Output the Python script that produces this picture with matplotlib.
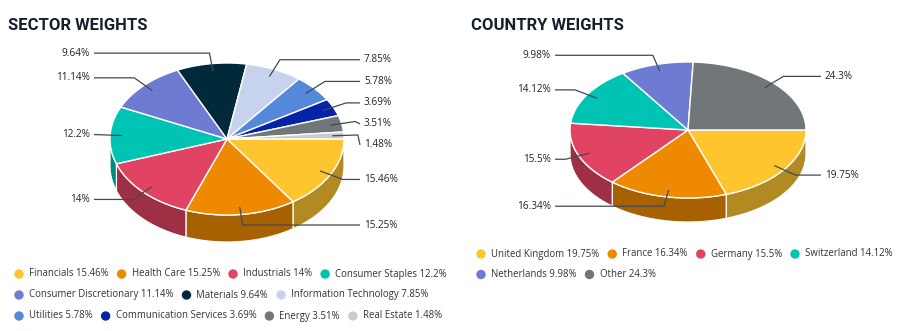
import numpy as np
import matplotlib.pyplot as plt
from matplotlib.patches import Polygon, Circle
from matplotlib.colors import to_rgb

W, H = 901, 331

sector_names = ['Financials', 'Health Care', 'Industrials', 'Consumer Staples',
                'Consumer Discretionary', 'Materials', 'Information Technology',
                'Utilities', 'Communication Services', 'Energy', 'Real Estate']
sector_values = [15.46, 15.25, 14, 12.2, 11.14, 9.64, 7.85, 5.78, 3.69, 3.51, 1.48]
sector_colors = ['#ffc52f', '#ef8a00', '#e14463', '#00c4b3', '#6d7bd3', '#00293a',
                 '#c7d3ec', '#5588db', '#0523a8', '#717679', '#cbcbcb']

country_names = ['United Kingdom', 'France', 'Germany', 'Switzerland', 'Netherlands', 'Other']
country_values = [19.75, 16.34, 15.5, 14.12, 9.98, 24.3]
country_colors = ['#ffc52f', '#ef8a00', '#e14463', '#00c4b3', '#6d7bd3', '#717679']

LABEL_FONT = ['Open Sans', 'DejaVu Sans']
TEXT_C = '#333333'
LINE_C = '#3f4a54'


def shade(c, k=0.7):
    return tuple(v * k for v in to_rgb(c))


def pie3d(ax, values, colors, cx, cy, rx, ry, depth):
    vals = np.asarray(values, float)
    edges = np.r_[0, np.cumsum(vals)] / vals.sum() * 2 * np.pi

    # outer wall, only the front half (screen y grows downward)
    for a0, a1, c in zip(edges[:-1], edges[1:], colors):
        lo, hi = max(a0, 0), min(a1, np.pi)
        if hi <= lo:
            continue
        t = np.linspace(lo, hi, 80)
        xs, ys = cx + rx * np.cos(t), cy + ry * np.sin(t)
        pts = np.r_[np.c_[xs, ys], np.c_[xs[::-1], ys[::-1] + depth]]
        ax.add_patch(Polygon(pts, closed=True, fc=shade(c), ec='white', lw=0.9, zorder=2))

    # top face
    for a0, a1, c in zip(edges[:-1], edges[1:], colors):
        t = np.linspace(a0, a1, 100)
        pts = np.r_[[[cx, cy]], np.c_[cx + rx * np.cos(t), cy + ry * np.sin(t)]]
        ax.add_patch(Polygon(pts, closed=True, fc=c, ec='white', lw=1.0, zorder=3))

    # data labels with connectors
    mids = (edges[:-1] + edges[1:]) / 2
    for side in (1, -1):
        idx = [i for i in range(len(vals)) if np.sign(np.cos(mids[i]) + 1e-9) == side]
        idx.sort(key=lambda i: np.sin(mids[i]))
        prev = -1e9
        for i in idx:
            a = mids[i]
            y0 = cy + np.sin(a) * ry * 1.14
            y = max(y0, prev + 21)
            prev = y
            ax_x, ax_y = cx + 0.9 * rx * np.cos(a), cy + 0.9 * ry * np.sin(a)
            bx = cx + np.cos(a) * (rx + 14)
            tx = cx + side * 137
            ax.plot([ax_x, bx, tx - side * 4], [ax_y, y0, y], color=LINE_C, lw=0.9,
                    zorder=4, solid_capstyle='butt')
            ax.text(tx, y, f'{values[i]:g}%', ha='left' if side > 0 else 'right',
                    va='center', fontsize=7.2, color='#222222', family=LABEL_FONT, zorder=5)


def legend(ax, names, values, colors, x0, y0, xmax, row_h):
    r = ax.figure.canvas.get_renderer()
    x, y = x0, y0
    for n, v, c in zip(names, values, colors):
        t = ax.text(x + 10, y, f'{n} {v:g}%', ha='left', va='center', fontsize=6.9,
                    color=TEXT_C, family=LABEL_FONT)
        w = t.get_window_extent(r).width
        if x + 10 + w > xmax and x > x0:
            x, y = x0, y + row_h
            t.set_position((x + 10, y))
        ax.add_patch(Circle((x, y), 4.7, color=c, lw=0))
        x += 10 + w + 13


fig = plt.figure(figsize=(W / 100, H / 100), dpi=100)
ax = fig.add_axes([0, 0, 1, 1])
ax.set_xlim(0, W)
ax.set_ylim(H, 0)
ax.axis('off')

ax.text(8, 25, 'SECTOR WEIGHTS', fontsize=12, fontweight='bold', color='#14202e',
        family=['Roboto', 'DejaVu Sans'], va='center', ha='left')
ax.text(471, 25, 'COUNTRY WEIGHTS', fontsize=12, fontweight='bold', color='#14202e',
        family=['Roboto', 'DejaVu Sans'], va='center', ha='left')

pie3d(ax, sector_values, sector_colors, 227, 139, 117, 76, 27)
pie3d(ax, country_values, country_colors, 688, 130, 118, 68, 24)

legend(ax, sector_names, sector_values, sector_colors, 19, 274, 450, 21)
legend(ax, country_names, country_values, country_colors, 481, 254, 900, 20.5)

fig.savefig('out.png', dpi=100)
